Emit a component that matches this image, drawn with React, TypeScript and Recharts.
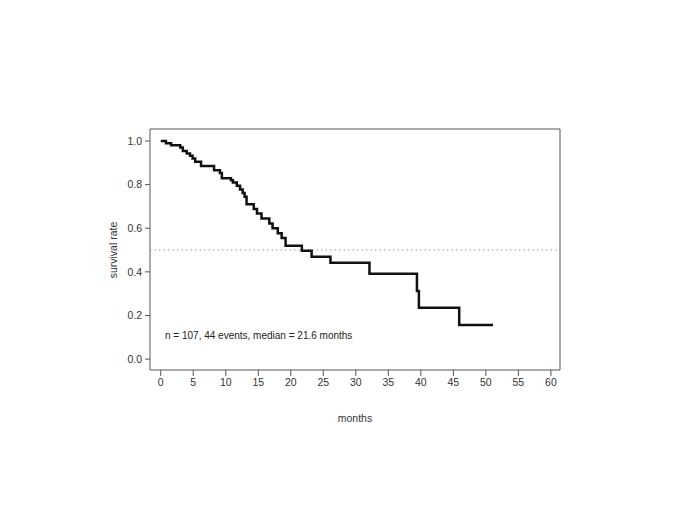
import React from "react";
import { LineChart, Line, XAxis, YAxis, ReferenceLine, ReferenceArea } from "recharts";

// Kaplan-Meier estimate (months, survival)
const months = [
  0, 0.8, 1.6, 3.0, 3.4, 4.0, 4.5, 4.9, 5.3, 6.2, 8.2, 9.1, 9.4, 10.8, 11.1, 11.7,
  12.2, 12.6, 12.9, 13.2, 14.3, 14.8, 15.5, 16.7, 17.2, 18.0, 18.6, 19.2, 21.7,
  23.2, 26.1, 32.1, 39.4, 39.7, 45.9, 51.1,
];
const survival = [
  1.0, 0.99, 0.981, 0.97, 0.954, 0.943, 0.932, 0.92, 0.905, 0.885, 0.866, 0.853,
  0.829, 0.82, 0.81, 0.795, 0.778, 0.762, 0.744, 0.71, 0.688, 0.668, 0.645, 0.622,
  0.6, 0.577, 0.555, 0.52, 0.497, 0.469, 0.442, 0.391, 0.312, 0.235, 0.156, 0.156,
];
const xTicks = [0, 5, 10, 15, 20, 25, 30, 35, 40, 45, 50, 55, 60];
const yTicks = [0, 0.2, 0.4, 0.6, 0.8, 1.0];
const note = "n = 107, 44 events, median = 21.6 months";

const data = months.map((t, i) => ({ t, s: survival[i] }));

const FONT = "'Liberation Sans', Arial, sans-serif";
const tickStyle = { fill: "#333", fontSize: 10.5, fontFamily: FONT };

export default function App() {
  return (
    <div style={{ position: "absolute", left: 0, top: 0, width: 685, height: 513, background: "#fff" }}>
      <LineChart
        width={685}
        height={513}
        data={data}
        margin={{ top: 129, right: 125, left: 90, bottom: 113 }}
      >
        <XAxis
          type="number"
          dataKey="t"
          domain={[-1.65, 61.4]}
          allowDataOverflow
          ticks={xTicks}
          interval={0}
          height={30}
          axisLine={false}
          tickSize={6}
          tickMargin={3}
          tickLine={{ stroke: "#555" }}
          tick={tickStyle}
        />
        <YAxis
          type="number"
          domain={[-0.05, 1.055]}
          allowDataOverflow
          ticks={yTicks}
          interval={0}
          width={60}
          axisLine={false}
          tickSize={5}
          tickMargin={3}
          tickLine={{ stroke: "#555" }}
          tick={tickStyle}
          tickFormatter={(v: number) => v.toFixed(1)}
        />
        <ReferenceArea
          x1={-1.65}
          x2={61.4}
          y1={-0.05}
          y2={1.055}
          fill="none"
          stroke="#555"
          strokeWidth={1}
        />
        <ReferenceLine y={0.5} stroke="#999" strokeDasharray="1.5 3" />
        <Line
          type="stepAfter"
          dataKey="s"
          stroke="#111"
          strokeWidth={2.5}
          dot={false}
          isAnimationActive={false}
        />
      </LineChart>
      <div
        style={{
          position: "absolute",
          left: 165,
          top: 330,
          fontFamily: FONT,
          fontSize: 10,
          color: "#222",
          whiteSpace: "nowrap",
        }}
      >
        {note}
      </div>
      <div
        style={{
          position: "absolute",
          left: 355,
          top: 412,
          transform: "translateX(-50%)",
          fontFamily: FONT,
          fontSize: 10.5,
          color: "#333",
          whiteSpace: "nowrap",
        }}
      >
        months
      </div>
      <div
        style={{
          position: "absolute",
          left: 113,
          top: 250,
          transform: "translate(-50%, -50%) rotate(-90deg)",
          fontFamily: FONT,
          fontSize: 10.5,
          color: "#333",
          whiteSpace: "nowrap",
        }}
      >
        survival rate
      </div>
    </div>
  );
}
